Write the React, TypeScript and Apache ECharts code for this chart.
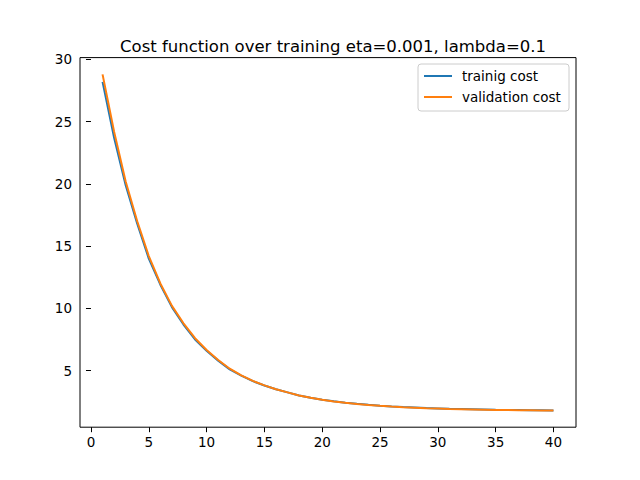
import React, { useEffect, useRef } from "react";
import * as echarts from "echarts";

const epochs = Array.from({ length: 40 }, (_, i) => i + 1);
const trainingCost = [28.2, 23.7, 19.9, 16.8, 14.0, 11.9, 10.1, 8.7, 7.5, 6.6, 5.8, 5.1, 4.6, 4.15, 3.8, 3.5, 3.25, 3.0, 2.82, 2.66, 2.53, 2.42, 2.33, 2.25, 2.18, 2.12, 2.07, 2.03, 1.99, 1.96, 1.93, 1.91, 1.89, 1.87, 1.85, 1.84, 1.83, 1.82, 1.81, 1.8];
const validationCost = [28.8, 24.2, 20.2, 17.0, 14.2, 12.0, 10.2, 8.8, 7.6, 6.65, 5.85, 5.15, 4.62, 4.17, 3.81, 3.5, 3.25, 3.0, 2.81, 2.65, 2.52, 2.41, 2.32, 2.24, 2.17, 2.11, 2.06, 2.02, 1.98, 1.95, 1.92, 1.9, 1.88, 1.86, 1.84, 1.83, 1.82, 1.81, 1.8, 1.79];
const xTicks = [0, 5, 10, 15, 20, 25, 30, 35, 40];
const yTicks = [5, 10, 15, 20, 25, 30];

const FONT = "DejaVu Sans";

export default function App() {
  const ref = useRef<HTMLDivElement>(null);
  useEffect(() => {
    const chart = echarts.init(ref.current!, null, { renderer: "svg" });
    const label = { color: "#000", fontFamily: FONT, fontSize: 13.5 };
    chart.setOption({
      animation: false,
      backgroundColor: "#fff",
      title: {
        text: "Cost function over training eta=0.001, lambda=0.1",
        left: 328, top: 33, textAlign: "center",
        textStyle: { fontFamily: FONT, fontSize: 16.5, fontWeight: "normal", color: "#000" },
      },
      grid: { left: 80, right: 64, top: 57.6, bottom: 52.8, show: true, borderColor: "#000", borderWidth: 1 },
      xAxis: {
        type: "value", min: -0.95, max: 41.95,
        axisLine: { show: false },
        splitLine: { show: false },
        axisTick: { show: true, inside: false, length: 5, customValues: xTicks, lineStyle: { color: "#000" } },
        axisLabel: { ...label, margin: 8, customValues: xTicks },
      },
      yAxis: {
        type: "value", min: 0.45, max: 30.15,
        axisLine: { show: false },
        splitLine: { show: false },
        axisTick: { show: true, length: 5, customValues: yTicks, lineStyle: { color: "#000" } },
        axisLabel: { ...label, margin: 8, customValues: yTicks },
      },
      series: [
        { type: "line", name: "trainig cost", data: epochs.map((e, i) => [e, trainingCost[i]]), showSymbol: false, lineStyle: { color: "#1f77b4", width: 2 } },
        { type: "line", name: "validation cost", data: epochs.map((e, i) => [e, validationCost[i]]), showSymbol: false, lineStyle: { color: "#ff7f0e", width: 2 } },
      ],
      graphic: [
        { type: "rect", shape: { x: 418, y: 64, width: 151, height: 47, r: 3 }, style: { fill: "rgba(255,255,255,0.8)", stroke: "#ccc", lineWidth: 1 } },
        { type: "line", shape: { x1: 424, y1: 76, x2: 452, y2: 76 }, style: { stroke: "#1f77b4", lineWidth: 2 } },
        { type: "text", x: 462, y: 76, style: { text: "trainig cost", fontFamily: FONT, fontSize: 13.5, fill: "#000", verticalAlign: "middle" } },
        { type: "line", shape: { x1: 424, y1: 97, x2: 452, y2: 97 }, style: { stroke: "#ff7f0e", lineWidth: 2 } },
        { type: "text", x: 462, y: 97, style: { text: "validation cost", fontFamily: FONT, fontSize: 13.5, fill: "#000", verticalAlign: "middle" } },
      ],
    });
    return () => chart.dispose();
  }, []);
  return <div ref={ref} style={{ position: "fixed", left: 0, top: 0, width: 640, height: 480 }} />;
}
